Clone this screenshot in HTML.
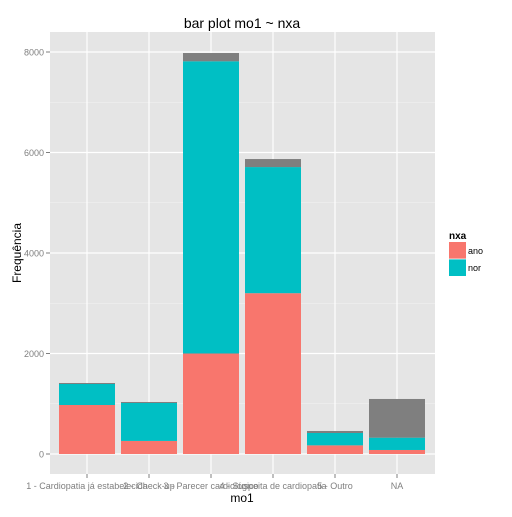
<!DOCTYPE html>
<html><head><meta charset="utf-8"><style>
body{margin:0;background:#fff;width:512px;height:512px;overflow:hidden}
text{font-family:"Liberation Sans","DejaVu Sans",sans-serif}
</style></head><body>
<svg id="chart" width="512" height="512" xmlns="http://www.w3.org/2000/svg"></svg>
<script>
const categories = ["1 - Cardiopatia já estabelecida","2 - Check-up","3 - Parecer cardiológico","4 - Suspeita de cardiopatia","5 - Outro","NA"];
const anoValues = [975, 260, 2000, 3200, 172, 80];
const norValues = [418, 755, 5815, 2510, 246, 245];
const naValues = [20, 20, 165, 160, 40, 770];
const yTicks = [0, 2000, 4000, 6000, 8000];

const svg = document.getElementById('chart');
const NS = 'http://www.w3.org/2000/svg';
const P = {l:50, r:435, t:32, b:474};
const y0 = 454, yScale = 402/8000;
function yPos(v){ return y0 - v*yScale; }
const step = 62, x0 = 87;
function xPos(i){ return x0 + i*step; }
const bw = 56;
function mk(tag, attrs, name, parent){
  const e = document.createElementNS(NS, tag);
  for (const k in attrs) e.setAttribute(k, attrs[k]);
  
  
  (parent||svg).appendChild(e);
  return e;
}
mk('rect',{x:P.l,y:P.t,width:P.r-P.l,height:P.b-P.t,fill:'#e5e5e5'},'plot-panel');
// minor grid
for (let i=0;i<yTicks.length-1;i++){
  const y = yPos((yTicks[i]+yTicks[i+1])/2);
  mk('line',{x1:P.l,x2:P.r,y1:y,y2:y,stroke:'#f2f2f2','stroke-width':0.6},'minor-gridline');
}
yTicks.forEach(t=>{
  const y=yPos(t);
  mk('line',{x1:P.l,x2:P.r,y1:y,y2:y,stroke:'#fff','stroke-width':1.2},'major-gridline');
  mk('line',{x1:P.l-4,x2:P.l,y1:y,y2:y,stroke:'#7f7f7f','stroke-width':1},'y-tick');
  const tx=mk('text',{x:P.l-6,y:y+3.5,'text-anchor':'end','font-size':9,fill:'#7f7f7f'},'y-tick-label');
  tx.textContent=t;
});
categories.forEach((c,i)=>{
  const x=xPos(i);
  mk('line',{x1:x,x2:x,y1:P.t,y2:P.b,stroke:'#fff','stroke-width':1.2},'x-gridline');
});
categories.forEach((c,i)=>{
  const x=xPos(i)-bw/2;
  const a=anoValues[i], n=norValues[i], na=naValues[i];
  mk('rect',{x:x,y:yPos(a),width:bw,height:a*yScale,fill:'#f8766d'},'bar-ano');
  mk('rect',{x:x,y:yPos(a+n),width:bw,height:n*yScale,fill:'#00bfc4'},'bar-nor');
  mk('rect',{x:x,y:yPos(a+n+na),width:bw,height:na*yScale,fill:'#7f7f7f'},'bar-na');
  mk('line',{x1:xPos(i),x2:xPos(i),y1:P.b,y2:P.b+4,stroke:'#7f7f7f','stroke-width':1},'x-tick');
  const tx=mk('text',{x:xPos(i),y:489,'text-anchor':'middle','font-size':9,fill:'#7f7f7f'},'x-tick-label');
  tx.textContent=c;
});
let t=mk('text',{x:242,y:28,'text-anchor':'middle','font-size':14,fill:'#000'},'chart-title');t.textContent='bar plot mo1 ~ nxa';
t=mk('text',{x:242,y:502,'text-anchor':'middle','font-size':12,fill:'#000'},'x-axis-title');t.textContent='mo1';
t=mk('text',{x:21,y:253,'text-anchor':'middle','font-size':12,fill:'#000',transform:'rotate(-90 21 253)'},'y-axis-title');t.textContent='Frequência';
t=mk('text',{x:449,y:239,'font-size':10,'font-weight':'bold',fill:'#000'},'legend-title');t.textContent='nxa';
mk('rect',{x:449,y:242,width:17,height:17,fill:'#f8766d'},'legend-key-ano');
mk('rect',{x:449,y:259,width:17,height:17,fill:'#00bfc4'},'legend-key-nor');
mk('line',{x1:449,x2:466,y1:259,y2:259,stroke:'#fff','stroke-width':0.8},'legend-key-separator');
t=mk('text',{x:468,y:254,'font-size':9,fill:'#000'},'legend-label-ano');t.textContent='ano';
t=mk('text',{x:468,y:271,'font-size':9,fill:'#000'},'legend-label-nor');t.textContent='nor';
</script>
</body></html>
